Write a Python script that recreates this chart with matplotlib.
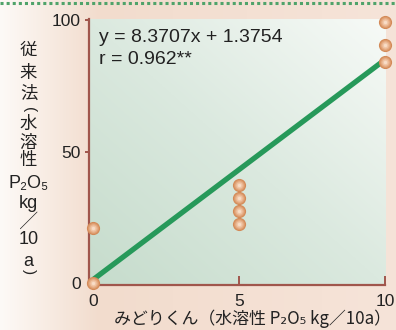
import numpy as np
import matplotlib
matplotlib.use("Agg")
import matplotlib.pyplot as plt
from matplotlib.colors import LinearSegmentedColormap
from matplotlib.lines import Line2D

# ---- data ----
x_pts = [0, 0, 5, 5, 5, 5, 10, 10, 10]
y_pts = [0, 21, 37.3, 32.4, 27.4, 22.3, 99.5, 90.5, 84.2]
slope = 8.3707
intercept = 1.3754
xticks = [0, 5, 10]
yticks = [0, 50, 100]
eq_text = "y = 8.3707x + 1.3754"
r_text = "r = 0.962**"
xlabel = "みどりくん（水溶性 P₂O₅ kg／10a）"
ylabel_tokens = ["従", "来", "法", "(", "水", "溶", "性", "P₂O₅", "kg", "╱", "10", "a", ")"]

W, H = 396, 330
fig = plt.figure(figsize=(W / 100, H / 100), dpi=100)

def px(x, y):
    return (x / W, 1 - y / H)

# ---- figure background gradient ----
bg = fig.add_axes([0, 0, 1, 1], zorder=-10)
bg.set_axis_off()
nx, ny = 400, 330
xs = np.linspace(0, 1, nx)
c_left = np.array([0xfd, 0xfa, 0xf7]) / 255
c_mid = np.array([0xf2, 0xdc, 0xcd]) / 255
c_right = np.array([0xf6, 0xe4, 0xd9]) / 255
img = np.zeros((ny, nx, 3))
for i, t in enumerate(xs):
    if t < 0.25:
        c = c_left + (c_mid - c_left) * (t / 0.25)
    else:
        c = c_mid + (c_right - c_mid) * ((t - 0.25) / 0.75)
    img[:, i, :] = c
bg.imshow(img, extent=[0, 1, 0, 1], aspect="auto", transform=bg.transAxes)

# dotted green top line
fig.add_artist(Line2D([0, 1], [1 - 2.5 / H, 1 - 2.5 / H], transform=fig.transFigure,
                      color="#4fa36a", linewidth=2.2, dashes=(1.0, 1.0),
                      solid_capstyle="butt", dash_capstyle="butt"))

# ---- main axes ----
ax = fig.add_axes([89 / W, 45 / H, 296 / W, 266 / H])
ax.set_xlim(-0.15, 9.97)
ax.set_ylim(-0.76, 100.57)

# axes gradient (lower-left greener, upper-right whiter)
gx, gy = np.meshgrid(np.linspace(0, 1, 200), np.linspace(0, 1, 200))
tgrad = (gx + gy) / 2
cmap = LinearSegmentedColormap.from_list("g", ["#c6dccc", "#dbe9df", "#f7faf7"])
ax.imshow(tgrad, extent=[0, 1, 0, 1], origin="lower", aspect="auto",
          transform=ax.transAxes, cmap=cmap, zorder=0)

# regression line
lx = np.array([0, 10])
ax.plot(lx, slope * lx + intercept, color="#27995a", linewidth=3.8,
        solid_capstyle="butt", zorder=3, clip_on=False)

# points with radial shading
layers = [(90, "#d38a58"), (64, "#dd9b6c"), (40, "#e7b089"), (20, "#f0c6a6"), (6, "#f8dcc6")]
for k, (sz, col) in enumerate(layers):
    ax.scatter(x_pts, y_pts, s=sz, color=col, zorder=4 + k, clip_on=False, linewidths=0)

# spines
spc = "#a0564c"
for s in ["top", "right"]:
    ax.spines[s].set_visible(False)
for s in ["left", "bottom"]:
    ax.spines[s].set_color(spc)
    ax.spines[s].set_linewidth(1.6)
    ax.spines[s].set_zorder(2)

ax.set_xticks(xticks)
ax.set_yticks(yticks)
ax.set_xticklabels([str(v) for v in xticks])
ax.set_yticklabels([str(v) for v in yticks])
ax.tick_params(axis="x", direction="in", length=6.5, width=1.4, color=spc,
               pad=6.5, labelsize=12.5, labelcolor="#222222")
ax.tick_params(axis="y", direction="out", length=3, width=1.4, color=spc,
               pad=3, labelsize=12.5, labelcolor="#222222")
for lab in ax.get_xticklabels() + ax.get_yticklabels():
    lab.set_fontfamily(["Liberation Sans", "DejaVu Sans"])
ax.xaxis.get_major_ticks()[0].tick1line.set_visible(False)
ax.yaxis.get_major_ticks()[0].tick1line.set_visible(False)

# equation text
fig.text(*px(99, 37), eq_text, fontsize=14, family=["Liberation Sans", "DejaVu Sans"],
         color="#222222", va="center", ha="left")
fig.text(*px(99, 60), r_text, fontsize=14, family=["Liberation Sans", "DejaVu Sans"],
         color="#222222", va="center", ha="left")

# x label
fig.text(*px(253, 319), xlabel, fontsize=12.2, family=["Noto Sans CJK JP", "DejaVu Sans"],
         color="#222222", va="center", ha="center")

# y label stacked
ycent = [50, 73, 94, 110, 124, 143, 160, 184, 203, 222, 240, 261, 272]
for tok, yc in zip(ylabel_tokens, ycent):
    fam = ["Noto Sans CJK JP", "DejaVu Sans"]
    fs = 12.5
    rot = 0
    if tok in ("P₂O₅", "kg", "10", "a"):
        fam = ["Liberation Sans", "DejaVu Sans"]
        fs = 13
    if tok in ("(", ")"):
        fam = ["Liberation Sans", "DejaVu Sans"]
        fs = 11
        rot = -90
    fig.text(*px(28.5, yc), tok, fontsize=fs, family=fam, color="#222222",
             va="center", ha="center", rotation=rot, rotation_mode="anchor")

fig.savefig("out.png", dpi=100)
